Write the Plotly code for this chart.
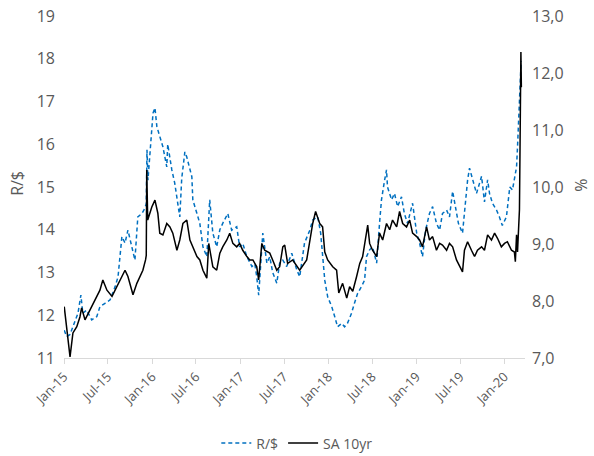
import plotly.graph_objects as go

# ---- data ----
zar_dates = [
 "2015-01-02","2015-01-12","2015-01-26","2015-02-07","2015-02-28","2015-03-12","2015-03-20","2015-04-05",
 "2015-04-26","2015-05-17","2015-05-30","2015-06-20","2015-07-11","2015-08-01","2015-08-13","2015-08-29",
 "2015-09-11","2015-09-23","2015-10-10","2015-10-22","2015-11-03","2015-11-20","2015-11-28","2015-12-08",
 "2015-12-11","2015-12-15","2016-01-05","2016-01-13","2016-01-21","2016-02-02","2016-02-15","2016-03-02",
 "2016-03-06","2016-03-23","2016-04-04","2016-04-25","2016-05-03","2016-05-16","2016-05-24","2016-06-14",
 "2016-06-18","2016-07-05","2016-07-17","2016-07-30","2016-08-15","2016-08-27","2016-09-09","2016-09-25",
 "2016-10-08","2016-10-20","2016-11-10","2016-11-26","2016-12-17","2016-12-29","2017-01-11","2017-01-28",
 "2017-02-18","2017-03-02","2017-03-10","2017-03-18","2017-03-31","2017-04-04","2017-04-21","2017-05-03",
 "2017-05-15","2017-06-01","2017-06-13","2017-06-26","2017-07-12","2017-08-02","2017-08-23","2017-09-04",
 "2017-09-24","2017-10-16","2017-10-28","2017-11-18","2017-11-30","2017-12-08","2017-12-17","2017-12-29",
 "2018-01-15","2018-01-27","2018-02-08","2018-02-25","2018-03-09","2018-03-21","2018-04-07","2018-04-19",
 "2018-05-02","2018-05-18","2018-05-31","2018-06-08","2018-06-21","2018-07-03","2018-07-20","2018-08-01",
 "2018-08-09","2018-08-22","2018-08-30","2018-09-03","2018-09-20","2018-10-02","2018-10-15","2018-10-31",
 "2018-11-12","2018-11-25","2018-12-16","2019-01-02","2019-01-14","2019-01-26","2019-02-08","2019-02-24",
 "2019-03-09","2019-03-25","2019-04-07","2019-04-19","2019-05-06","2019-05-18","2019-05-31","2019-06-16",
 "2019-06-24","2019-07-11","2019-07-19","2019-08-01","2019-08-09","2019-08-22","2019-09-07","2019-09-28",
 "2019-10-10","2019-10-23","2019-10-31","2019-11-12","2019-11-29","2019-12-11","2019-12-23","2020-01-09",
 "2020-01-13","2020-01-23","2020-02-03","2020-02-11","2020-02-20","2020-02-24","2020-02-28","2020-03-03",
 "2020-03-07","2020-03-10"]
zar_values = [
 11.65,11.50,11.55,11.73,12.05,12.47,12.05,12.12,
 11.89,11.97,12.20,12.28,12.36,12.67,12.90,13.84,
 13.69,13.99,13.60,13.29,14.30,14.38,14.46,14.60,
 15.87,15.16,16.73,16.85,16.41,16.17,15.94,15.47,
 16.00,15.40,15.09,14.30,15.20,15.82,15.70,15.24,
 14.70,14.38,14.15,13.60,13.37,14.70,13.92,13.60,
 14.00,14.15,14.38,13.99,14.07,13.60,13.68,13.37,
 13.14,13.20,12.90,12.47,13.68,13.92,13.22,13.37,
 13.00,12.75,13.22,13.29,13.14,13.45,13.06,12.90,
 13.69,13.99,14.23,14.30,13.92,13.29,12.82,12.43,
 12.20,11.97,11.73,11.81,11.73,11.81,12.05,12.28,
 12.51,12.67,12.82,13.37,13.53,13.60,13.22,14.15,
 14.70,15.16,15.40,15.00,14.70,14.85,14.54,14.77,
 14.38,14.15,14.62,13.92,13.69,13.37,13.99,14.38,
 14.54,14.15,13.99,14.38,14.46,14.30,14.90,14.40,
 14.15,13.92,14.40,15.16,15.44,15.16,14.85,15.25,
 14.65,15.17,14.85,14.62,14.46,14.30,14.10,14.30,
 14.54,15.00,14.93,15.20,15.47,15.94,16.41,17.10,
 17.60,17.95]

sa10_dates = [
 "2015-01-02","2015-01-12","2015-01-26","2015-02-07","2015-02-23","2015-03-08","2015-03-15","2015-03-29",
 "2015-04-19","2015-05-09","2015-05-30","2015-06-11","2015-06-28","2015-07-19","2015-08-08","2015-08-29",
 "2015-09-11","2015-09-23","2015-10-10","2015-10-14","2015-10-30","2015-11-12","2015-11-24","2015-12-05",
 "2015-12-08","2015-12-10","2015-12-14","2015-12-31","2016-01-13","2016-01-25","2016-02-02","2016-02-15",
 "2016-03-02","2016-03-15","2016-03-27","2016-04-13","2016-04-25","2016-05-08","2016-05-24","2016-06-06",
 "2016-06-18","2016-07-05","2016-07-17","2016-07-30","2016-08-15","2016-08-23","2016-09-09","2016-09-25",
 "2016-10-08","2016-10-20","2016-11-06","2016-11-18","2016-12-01","2016-12-17","2016-12-29","2017-01-11",
 "2017-01-28","2017-02-09","2017-02-22","2017-03-10","2017-03-18","2017-03-31","2017-04-12","2017-05-03",
 "2017-05-15","2017-06-01","2017-06-13","2017-06-26","2017-07-04","2017-07-16","2017-08-06","2017-08-27",
 "2017-09-04","2017-10-03","2017-10-16","2017-10-28","2017-11-09","2017-11-26","2017-12-08","2017-12-17",
 "2017-12-29","2018-01-19","2018-02-04","2018-02-13","2018-03-01","2018-03-18","2018-03-30","2018-04-12",
 "2018-04-28","2018-05-11","2018-05-23","2018-06-04","2018-06-13","2018-06-21","2018-07-03","2018-07-20",
 "2018-08-01","2018-08-14","2018-08-30","2018-09-12","2018-09-24","2018-10-11","2018-10-23","2018-11-05",
 "2018-11-21","2018-12-04","2018-12-16","2019-01-02","2019-01-14","2019-01-26","2019-02-12","2019-02-24",
 "2019-03-09","2019-03-25","2019-04-07","2019-04-19","2019-05-06","2019-05-18","2019-05-31","2019-06-16",
 "2019-06-29","2019-07-11","2019-07-19","2019-08-01","2019-08-17","2019-08-30","2019-09-11","2019-09-28",
 "2019-10-10","2019-10-23","2019-11-08","2019-11-21","2019-12-03","2019-12-19","2020-01-01","2020-01-13",
 "2020-01-30","2020-02-11","2020-02-15","2020-02-20","2020-02-24","2020-02-28","2020-03-03","2020-03-05",
 "2020-03-07","2020-03-09","2020-03-11"]
sa10_values = [
 7.90,7.55,7.02,7.44,7.55,7.72,7.88,7.67,
 7.84,8.02,8.19,8.37,8.19,8.08,8.25,8.43,
 8.54,8.43,8.19,8.11,8.31,8.43,8.54,8.72,
 8.80,10.30,9.42,9.65,9.77,9.54,9.19,9.16,
 9.36,9.30,9.19,8.89,9.07,9.36,9.42,9.07,
 8.95,8.78,8.72,8.54,8.40,9.01,8.60,8.54,
 8.84,8.95,9.07,9.19,9.01,8.95,9.01,8.89,
 8.78,8.72,8.72,8.60,8.37,9.01,8.89,8.84,
 8.72,8.54,8.60,8.95,8.98,8.66,8.72,8.60,
 8.54,8.72,9.07,9.36,9.57,9.36,9.30,8.86,
 8.72,8.60,8.54,8.14,8.31,8.05,8.25,8.17,
 8.43,8.66,8.78,9.13,9.33,9.01,8.89,8.78,
 9.19,9.07,9.36,9.25,9.42,9.30,9.57,9.36,
 9.30,9.42,9.19,9.13,9.07,8.95,9.30,9.07,
 9.13,8.89,9.01,8.98,8.89,9.01,8.95,8.72,
 8.60,8.51,8.89,9.04,8.89,8.78,8.89,8.95,
 8.89,9.16,9.07,9.19,9.10,8.95,9.01,9.04,
 8.89,8.86,8.69,9.16,8.86,9.30,9.60,10.50,
 11.50,12.37,11.75]

left_ticks = [11, 12, 13, 14, 15, 16, 17, 18, 19]
right_ticks = [7, 8, 9, 10, 11, 12, 13]
right_tick_text = ["7,0", "8,0", "9,0", "10,0", "11,0", "12,0", "13,0"]
x_tick_dates = ["2015-01-01","2015-07-01","2016-01-01","2016-07-01","2017-01-01","2017-07-01",
                "2018-01-01","2018-07-01","2019-01-01","2019-07-01","2020-01-01"]

GREY = "#595959"
FONT = "Open Sans"

fig = go.Figure()
fig.add_trace(go.Scatter(x=zar_dates, y=zar_values, name="R/$", mode="lines",
                         line=dict(color="#0070C0", width=1.5, dash="4px,3px"), yaxis="y"))
fig.add_trace(go.Scatter(x=sa10_dates, y=sa10_values, name="SA 10yr", mode="lines",
                         line=dict(color="#000000", width=1.5), yaxis="y2"))

fig.update_layout(
    width=594, height=456,
    margin=dict(l=64, r=69, t=16, b=98, autoexpand=False),
    paper_bgcolor="white", plot_bgcolor="white",
    font=dict(family=FONT, color=GREY),
    showlegend=True,
    legend=dict(orientation="h", x=0.505, y=-0.25, xanchor="center", yanchor="middle",
                font=dict(size=14, color=GREY), bgcolor="rgba(0,0,0,0)"),
    xaxis=dict(type="date", range=["2015-01-01", "2020-03-26"],
               tickvals=x_tick_dates, tickformat="%b-%y", tickangle=-45,
               tickfont=dict(size=13, color=GREY),
               showgrid=False, zeroline=False,
               showline=True, linecolor="#D9D9D9", linewidth=1,
               ticks="outside", ticklen=5, tickcolor="#D9D9D9"),
    yaxis=dict(range=[11, 19], tickvals=left_ticks, showgrid=False, zeroline=False,
               showline=False, ticks="", tickfont=dict(size=16, color=GREY),
               ticklabelstandoff=8),
    yaxis2=dict(range=[7, 13], tickvals=right_ticks, ticktext=right_tick_text,
                overlaying="y", side="right", showgrid=False, zeroline=False,
                showline=False, ticks="", tickfont=dict(size=16, color=GREY),
                ticklabelstandoff=6),
    annotations=[
        dict(text="R/$", xref="paper", yref="paper", x=-0.102, y=0.512, textangle=-90,
             showarrow=False, font=dict(size=16, color=GREY), xanchor="center", yanchor="middle"),
        dict(text="%", xref="paper", yref="paper", x=1.121, y=0.506, textangle=-90,
             showarrow=False, font=dict(size=16, color=GREY), xanchor="center", yanchor="middle"),
    ],
)

fig.write_html("out.html", config={"displayModeBar": False},
               post_script="document.body.style.margin='0';document.body.style.padding='0';")
